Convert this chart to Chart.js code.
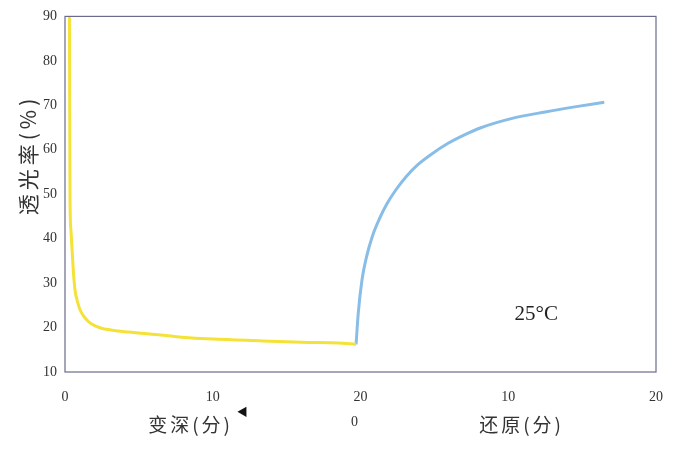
<!DOCTYPE html>
<html>
<head>
<meta charset="utf-8">
<script src="https://cdn.jsdelivr.net/npm/chart.js@4/dist/chart.umd.min.js"></script>
<style>
  html, body { margin: 0; padding: 0; background: #fff; }
  #wrap { width: 680px; height: 449px; }
</style>
</head>
<body>
<div id="wrap"><canvas id="myChart" width="680" height="449"></canvas></div>
<script>
// 變深 (0~20 分)
var darkenX = [0.3, 0.32, 0.34, 0.4, 0.48, 0.58, 0.68, 0.85, 1.03, 1.35, 1.71, 2.4, 3.2, 4.25, 6.5, 7.7, 10, 13.4, 16, 19.5, 19.7];
var darkenY = [90, 70, 48.6, 42, 37.4, 32, 28.4, 25.8, 23.9, 22.2, 21, 19.9, 19.4, 19, 18.3, 17.9, 17.4, 17.0, 16.7, 16.3, 16.2];
// 還原 (接在 20 之後，x 軸 20~40)
var restoreX = [19.7, 19.85, 20.1, 20.4, 20.8, 21.3, 21.8, 22.4, 23.1, 23.9, 24.8, 25.9, 27.0, 28.1, 30.2, 32.5, 34.6, 36.5];
var restoreY = [16.2, 23.3, 30.7, 35.8, 40.5, 44.6, 47.9, 51.0, 54.0, 56.7, 59.0, 61.4, 63.3, 64.9, 67.0, 68.5, 69.7, 70.7];
var xTicks = [0, 10, 20, 30, 40];
var xTickLabels = ['0', '10', '20', '10', '20'];
var yTicks = [10, 20, 30, 40, 50, 60, 70, 80, 90];

var serif = '"Liberation Serif", "DejaVu Serif", serif';
var cjk = '"Noto Sans CJK SC", sans-serif';

function toPoints(xs, ys) {
    return xs.map(function (x, i) { return { x: x, y: ys[i] }; });
}

const extras = {
    id: 'extras',
    afterDraw: (chart) => {
        const ctx = chart.ctx;
        const a = chart.chartArea;
        const xs = chart.scales.x;
        const ys = chart.scales.y;
        ctx.save();
        // 外框
        ctx.strokeStyle = '#6b6b8c';
        ctx.lineWidth = 1.2;
        ctx.strokeRect(a.left, a.top, a.right - a.left, a.bottom - a.top);

        ctx.fillStyle = '#333';
        ctx.textAlign = 'center';
        ctx.textBaseline = 'middle';
        // 第二段的 0
        ctx.font = '14px ' + serif;
        ctx.fillText('0', xs.getPixelForValue(19.6), 422);
        // 軸標題
        ctx.font = '19px ' + cjk;
        ctx.letterSpacing = '3px';
        ctx.fillText('变深(分)', xs.getPixelForValue(8.5), 425);
        ctx.fillText('还原(分)', xs.getPixelForValue(30.9), 425);
        ctx.letterSpacing = '0px';
        ctx.font = '11px ' + cjk;
        ctx.fillStyle = '#111';
        ctx.fillText('◀', xs.getPixelForValue(12.0), 412);
        // 溫度
        ctx.fillStyle = '#222';
        ctx.font = '21px ' + serif;
        ctx.fillText('25°C', xs.getPixelForValue(31.9), ys.getPixelForValue(23));
        // y 軸標題
        ctx.translate(28, 155);
        ctx.rotate(-Math.PI / 2);
        ctx.fillStyle = '#333';
        ctx.font = '21px ' + cjk;
        ctx.letterSpacing = '4px';
        ctx.fillText('透光率(%)', 0, 0);
        ctx.restore();
    }
};

var ctx = document.getElementById('myChart');
var myChart = new Chart(ctx, {
    type: 'line',
    data: {
        datasets: [
            {
                label: '变深',
                data: toPoints(darkenX, darkenY),
                borderColor: '#f4e236',
                borderWidth: 3,
                pointRadius: 0,
                cubicInterpolationMode: 'monotone'
            },
            {
                label: '还原',
                data: toPoints(restoreX, restoreY),
                borderColor: '#88bde8',
                borderWidth: 3,
                pointRadius: 0,
                cubicInterpolationMode: 'monotone'
            }
        ]
    },
    options: {
        responsive: false,
        animation: false,
        layout: { padding: { left: 0, right: 19, top: 16, bottom: 0 } },
        plugins: {
            legend: { display: false },
            tooltip: { enabled: false }
        },
        scales: {
            x: {
                type: 'linear',
                min: 0,
                max: 40,
                afterBuildTicks: (scale) => { scale.ticks = xTicks.map(v => ({ value: v })); },
                afterFit: (scale) => { scale.height = 77; },
                grid: { display: false, drawTicks: false },
                border: { display: false },
                ticks: {
                    padding: 17,
                    color: '#333',
                    font: { family: serif, size: 14 },
                    maxRotation: 0,
                    callback: (v) => xTickLabels[xTicks.indexOf(v)]
                }
            },
            y: {
                min: 10,
                max: 90,
                afterBuildTicks: (scale) => { scale.ticks = yTicks.map(v => ({ value: v })); },
                afterFit: (scale) => { scale.width = 65; },
                grid: { display: false, drawTicks: false },
                border: { display: false },
                ticks: {
                    padding: 8,
                    color: '#333',
                    font: { family: serif, size: 14 }
                }
            }
        }
    },
    plugins: [extras]
});
</script>
</body>
</html>
